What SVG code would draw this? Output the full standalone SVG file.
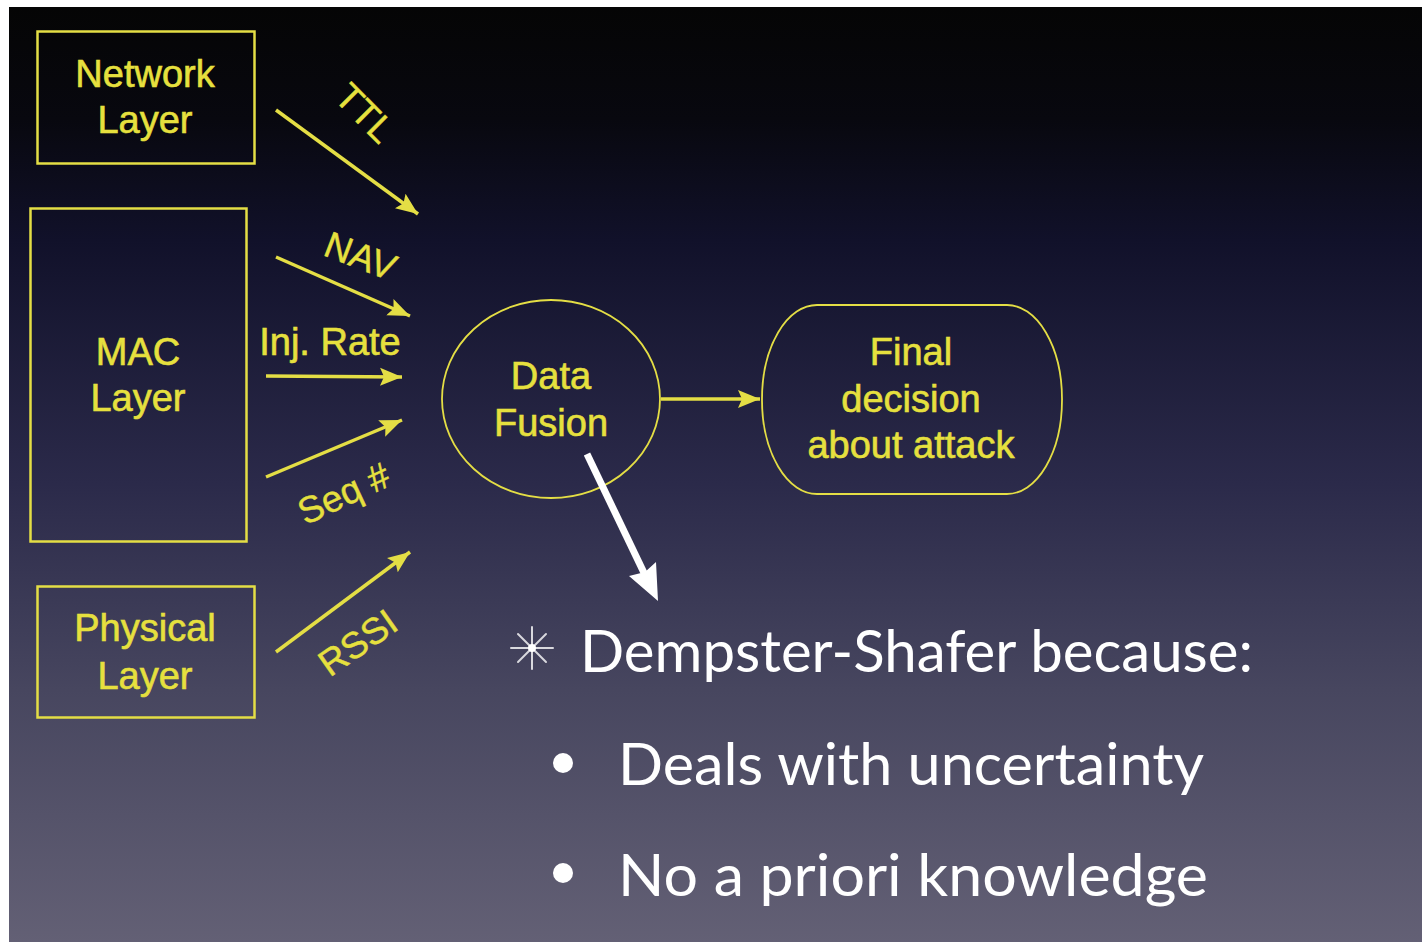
<svg xmlns="http://www.w3.org/2000/svg" width="1422" height="942" viewBox="0 0 1422 942">
  <defs>
    <linearGradient id="bg" x1="0" y1="0" x2="0" y2="1">
      <stop offset="0" stop-color="#050505"/>
      <stop offset="0.12" stop-color="#08080f"/>
      <stop offset="0.25" stop-color="#11112a"/>
      <stop offset="0.51" stop-color="#2b2a4a"/>
      <stop offset="0.73" stop-color="#47465f"/>
      <stop offset="1" stop-color="#636075"/>
    </linearGradient>
    <marker id="ya" markerUnits="userSpaceOnUse" markerWidth="24" markerHeight="20" refX="22" refY="10" orient="auto">
      <path d="M0,1 L22,10 L0,19 L4,10 Z" fill="#e4de45"/>
    </marker>
    <style>
      .box { fill: none; stroke: #e4de45; stroke-width: 2.5; }
      .thin { fill: none; stroke: #e4de45; stroke-width: 1.8; }
      .yt { fill: #e6e03e; stroke: #e6e03e; stroke-width: 0.6; font-family: "Liberation Sans", Arial, sans-serif; font-size: 38px; text-anchor: middle; }
      .lbl { fill: #e6e03e; stroke: #e6e03e; stroke-width: 0.4; font-family: "Liberation Sans", Arial, sans-serif; font-size: 37px; text-anchor: middle; }
      .ya { stroke: #e4de45; stroke-width: 3.5; fill: none; marker-end: url(#ya); }
      .wt { fill: #ffffff; font-family: Lato, "Open Sans", sans-serif; font-size: 58px; }
    </style>
  </defs>
  <rect x="0" y="0" width="1422" height="942" fill="#ffffff"/>
  <rect x="9" y="7" width="1413" height="935" fill="url(#bg)"/>

  <g id="network-layer">
    <rect class="box" x="37.5" y="31.5" width="217" height="132"/>
    <text class="yt" x="145" y="87">Network</text>
    <text class="yt" x="145" y="133">Layer</text>
  </g>
  <g id="mac-layer">
    <rect class="box" x="30.5" y="208.5" width="216" height="333"/>
    <text class="yt" x="138" y="365">MAC</text>
    <text class="yt" x="138" y="411">Layer</text>
  </g>
  <g id="physical-layer">
    <rect class="box" x="37.5" y="586.5" width="217" height="131"/>
    <text class="yt" x="145" y="641">Physical</text>
    <text class="yt" x="145" y="689">Layer</text>
  </g>
  <g id="data-fusion">
    <ellipse class="thin" cx="551" cy="399" rx="109" ry="99"/>
    <text class="yt" x="551" y="389">Data</text>
    <text class="yt" x="551" y="436">Fusion</text>
  </g>
  <g id="final-decision">
    <rect class="thin" x="762" y="305" width="300" height="189" rx="55" ry="94"/>
    <text class="yt" x="911" y="365">Final</text>
    <text class="yt" x="911" y="412">decision</text>
    <text class="yt" x="911" y="458">about attack</text>
  </g>

  <g id="connectors">
    <line class="ya" x1="276" y1="110" x2="418" y2="214"/>
    <line class="ya" x1="276" y1="257" x2="410" y2="316"/>
    <line class="ya" x1="266" y1="376" x2="402" y2="377"/>
    <line class="ya" x1="266" y1="477" x2="402" y2="420"/>
    <line class="ya" x1="276" y1="652" x2="410" y2="552"/>
    <line class="ya" x1="661" y1="399" x2="760" y2="399"/>
    <line x1="587" y1="454" x2="646" y2="577" stroke="#ffffff" stroke-width="7"/>
    <path d="M658,601 L629,576 L645,572 L656,562 Z" fill="#ffffff"/>
  </g>

  <g id="labels">
    <text class="lbl" transform="translate(356,122) rotate(45)">TTL</text>
    <text class="lbl" transform="translate(356,268) rotate(21)">NAV</text>
    <text class="yt" x="330" y="355">Inj. Rate</text>
    <text class="lbl" transform="translate(349,505) rotate(-25)">Seq #</text>
    <text class="lbl" transform="translate(365,653) rotate(-35)">RSSI</text>
  </g>

  <g id="notes">
    <g id="star" stroke="#ffffff" stroke-linecap="round">
      <line x1="511" y1="648" x2="553" y2="648" stroke-width="2" stroke-opacity="0.8"/>
      <line x1="532" y1="627" x2="532" y2="669" stroke-width="2" stroke-opacity="0.8"/>
      <line x1="518" y1="634" x2="546" y2="662" stroke-width="2" stroke-opacity="0.8"/>
      <line x1="546" y1="634" x2="518" y2="662" stroke-width="2" stroke-opacity="0.8"/>
      <circle cx="532" cy="648" r="4" fill="#ffffff" stroke="none"/>
    </g>
    <text class="wt" x="580" y="672" textLength="673" lengthAdjust="spacingAndGlyphs">Dempster-Shafer because:</text>
    <circle cx="563" cy="763" r="10" fill="#ffffff"/>
    <text class="wt" x="618" y="785" textLength="586" lengthAdjust="spacingAndGlyphs">Deals with uncertainty</text>
    <circle cx="563" cy="873" r="10" fill="#ffffff"/>
    <text class="wt" x="618" y="896" textLength="590" lengthAdjust="spacingAndGlyphs">No a priori knowledge</text>
  </g>
</svg>
